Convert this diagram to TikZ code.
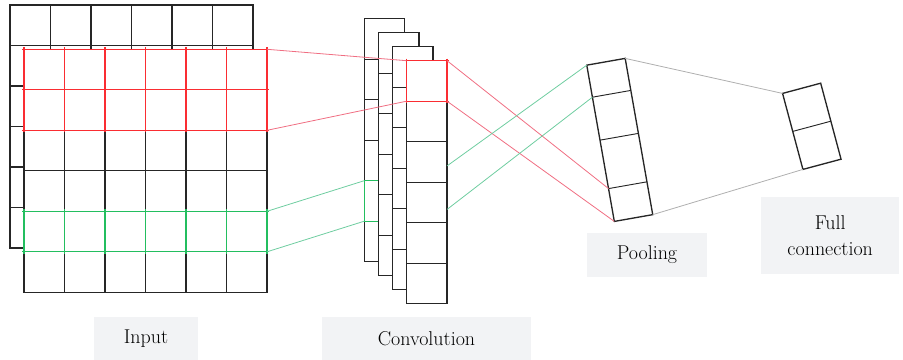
\documentclass[tikz,border=0pt]{standalone}
\usetikzlibrary{calc}
\definecolor{hlred}{RGB}{250,45,50}
\definecolor{hlgreen}{RGB}{35,190,95}
\definecolor{linkred}{RGB}{240,110,130}
\definecolor{linkgreen}{RGB}{110,205,160}
\definecolor{linkgray}{RGB}{175,175,175}
\definecolor{labelbg}{RGB}{242,243,245}
\begin{document}
\begin{tikzpicture}[x=0.75pt,y=-0.75pt,
  cell/.style={draw=black!85,line width=1pt},
  inlayer/.style={draw=black!85,fill=white,line width=1pt,inner sep=0pt,outer sep=0pt,minimum size=182.25pt},
  convlayer/.style={inlayer,minimum width=30.4pt,minimum height=182.25pt},
  hl/.style={inner sep=0pt,outer sep=0pt},
  hlline/.style={line width=1pt,shorten <=-1.5pt,shorten >=-1.5pt},
  link/.style={line width=0.6pt},
  tag/.style={fill=labelbg,inner sep=0pt,text=black,font=\fontsize{15}{19}\selectfont,align=center}]
  \useasboundingbox (0,0) rectangle (903,360);
  % input, two stacked 6x6 maps
  \node[inlayer] (inB) at (131.5,126.5) {};
  \foreach \i in {1,...,5} {
    \draw[cell] ($(inB.north west)!\i/6!(inB.north east)$) -- ($(inB.south west)!\i/6!(inB.south east)$);
    \draw[cell] ($(inB.north west)!\i/6!(inB.south west)$) -- ($(inB.north east)!\i/6!(inB.south east)$);
  }
  \node[inlayer] (inF) at (145.5,170.8) {};
  \foreach \i in {1,...,5} {
    \draw[cell] ($(inF.north west)!\i/6!(inF.north east)$) -- ($(inF.south west)!\i/6!(inF.south east)$);
    \draw[cell] ($(inF.north west)!\i/6!(inF.south west)$) -- ($(inF.north east)!\i/6!(inF.south east)$);
  }
  \node[hl,minimum width=182.25pt,minimum height=60.75pt] (inred) at (145.5,89.8) {};
  \foreach \i in {0,...,6}
    \draw[hlline,hlred] ($(inred.north west)!\i/6!(inred.north east)$) -- ($(inred.south west)!\i/6!(inred.south east)$);
  \foreach \i in {0,1,2}
    \draw[hlline,hlred] ($(inred.north west)!\i/2!(inred.south west)$) -- ($(inred.north east)!\i/2!(inred.south east)$);
  \node[hl,minimum width=182.25pt,minimum height=30.375pt] (ingreen) at (145.5,231.55) {};
  \foreach \i in {0,...,6}
    \draw[hlline,hlgreen] ($(ingreen.north west)!\i/6!(ingreen.north east)$) -- ($(ingreen.south west)!\i/6!(ingreen.south east)$);
  \draw[hlline,hlgreen] (ingreen.north west) -- (ingreen.north east);
  \draw[hlline,hlgreen] (ingreen.south west) -- (ingreen.south east);
  % convolution maps, back to front
  \node[convlayer] (c1) at (384.5,140.2) {};
  \foreach \i in {1,...,5}
    \draw[cell] ($(c1.north west)!\i/6!(c1.south west)$) -- ($(c1.north east)!\i/6!(c1.south east)$);
  \node[hl,minimum width=30.4pt,minimum height=30.375pt] (cgreen) at (384.5,200.95) {};
  \draw[hlline,hlgreen] (cgreen.north east) -- (cgreen.north west) -- (cgreen.south west) -- (cgreen.south east);
  \foreach \n/\px/\py in {2/398.6/154.2,3/412.7/168.2,4/426.8/182.2} {
    \node[convlayer] (c\n) at (\px,\py) {};
    \foreach \i in {1,...,5}
      \draw[cell] ($(c\n.north west)!\i/6!(c\n.south west)$) -- ($(c\n.north east)!\i/6!(c\n.south east)$);
  }
  \node[hl,minimum width=30.4pt,minimum height=30.375pt] (cred) at (426.8,80.95) {};
  \draw[hlline,hlred] (cred.north west) -- (cred.north east);
  \draw[hlline,hlred] (cred.south west) -- (cred.south east);
  \draw[hlline,hlred] (cred.north west) -- (cred.south west);
  \draw[hlline,hlred] (cred.north east) -- (cred.south east);
  % pooling and full connection
  \node[draw=black!85,line width=1pt,rotate=10,inner sep=0pt,outer sep=0pt,minimum width=29.25pt,minimum height=119pt] (pool) at (619.75,139.9) {};
  \foreach \f in {0.205,0.48,0.79}
    \draw[cell,line width=0.7pt] ($(pool.north west)!\f!(pool.south west)$) -- ($(pool.north east)!\f!(pool.south east)$);
  \node[draw=black!85,line width=1pt,rotate=15,inner sep=0pt,outer sep=0pt,minimum width=29.6pt,minimum height=59pt] (fc) at (811.8,126.3) {};
  \draw[cell,line width=0.7pt] ($(fc.north west)!0.5!(fc.south west)$) -- ($(fc.north east)!0.5!(fc.south east)$);
  % connectors
  \coordinate (g1) at ($(c4.north east)!0.433!(c4.south east)$);
  \coordinate (g2) at ($(c4.north east)!0.612!(c4.south east)$);
  \coordinate (p1) at ($(pool.north west)!0.205!(pool.south west)$);
  \coordinate (p3) at ($(pool.north west)!0.79!(pool.south west)$);
  \draw[link,linkred] (inred.north east) -- (cred.north west);
  \draw[link,linkred] (inred.south east) -- (cred.south west);
  \draw[link,linkred] (cred.north east) -- (p3);
  \draw[link,linkred] (cred.south east) -- (pool.south west);
  \draw[link,linkgreen] (ingreen.north east) -- (cgreen.north west);
  \draw[link,linkgreen] (ingreen.south east) -- (cgreen.south west);
  \draw[link,linkgreen] (g1) -- (pool.north west);
  \draw[link,linkgreen] (g2) -- (p1);
  \draw[link,linkgray] (pool.north east) -- (fc.north west);
  \draw[link,linkgray] (pool.south east) -- (fc.south west);
  % labels
  \node[tag,minimum width=77.8pt,minimum height=32.5pt] (lin) at (146,338.35) {Input};
  \node[tag,minimum width=156.3pt,minimum height=32.5pt] (lconv) at (426.5,338.35) {Convolution};
  \node[tag,minimum width=89.5pt,minimum height=33pt] (lpool) at (647,254.7) {Pooling};
  \node[tag,minimum width=103.7pt,minimum height=58.2pt] (lfc) at (830.2,235.5) {Full\\connection};
\end{tikzpicture}
\end{document}
